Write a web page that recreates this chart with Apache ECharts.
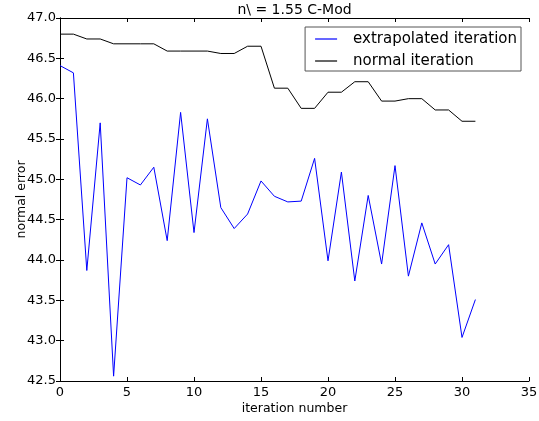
<!DOCTYPE html>
<html><head><meta charset="utf-8">
<script src="https://cdn.jsdelivr.net/npm/echarts@6/dist/echarts.min.js"></script>
<style>html,body{margin:0;padding:0;background:#fff}#c{width:539px;height:421px}</style>
</head><body><div id="c"></div>
<script>
const iterations = [0,1,2,3,4,5,6,7,8,9,10,11,12,13,14,15,16,17,18,19,20,21,22,23,24,25,26,27,28,29,30,31];
const extrapolated = [46.41,46.32,43.87,45.70,42.56,45.02,44.93,45.15,44.24,45.83,44.34,45.75,44.65,44.39,44.57,44.98,44.79,44.72,44.73,45.26,43.99,45.09,43.74,44.80,43.95,45.17,43.80,44.46,43.95,44.19,43.04,43.51];
const normal = [46.80,46.80,46.74,46.74,46.68,46.68,46.68,46.68,46.59,46.59,46.59,46.59,46.56,46.56,46.65,46.65,46.13,46.13,45.88,45.88,46.08,46.08,46.21,46.21,45.97,45.97,46.00,46.00,45.86,45.86,45.72,45.72];
const xTicks = [0,5,10,15,20,25,30,35];
const yTicks = [42.5,43.0,43.5,44.0,44.5,45.0,45.5,46.0,46.5,47.0];

const font = 'DejaVu Sans';
const chart = echarts.init(document.getElementById('c'));
const tickStyle = {show:true, inside:true, length:4, lineStyle:{color:'#000', width:1}};
const baseX = {type:'value', min:xTicks[0], max:xTicks[xTicks.length-1], interval:5,
  axisLine:{show:true, lineStyle:{color:'#000', width:1}}, splitLine:{show:false}};
const baseY = {type:'value', min:yTicks[0], max:yTicks[yTicks.length-1], interval:0.5,
  axisLine:{show:true, lineStyle:{color:'#000', width:1}}, splitLine:{show:false}};
chart.setOption({
  animation:false,
  backgroundColor:'#fff',
  title:{text:'n\\ = 1.55 C-Mod', left:294.5, textAlign:'center', top:3, padding:0,
    textStyle:{fontFamily:font, fontSize:14, fontWeight:'normal', color:'#000'}},
  grid:{left:60, right:10, top:18, bottom:40, containLabel:false, outerBoundsMode:'none'},
  legend:{orient:'vertical', right:18, top:27, padding:[3,4,1,10], itemGap:4,
    icon:'rect', itemWidth:22, itemHeight:1.2, borderColor:'#555', borderWidth:1, backgroundColor:'#fff',
    textStyle:{fontFamily:font, fontSize:15, lineHeight:18, color:'#000', padding:[0,0,0,11]},
    data:['extrapolated iteration','normal iteration']},
  xAxis:[
    Object.assign({}, baseX, {position:'bottom', name:'iteration number', nameLocation:'middle', nameGap:21,
      nameMoveOverlap:false,
      nameTextStyle:{fontFamily:font, fontSize:12.5, color:'#000'},
      axisTick:tickStyle, axisLabel:{fontFamily:font, fontSize:13, color:'#000', margin:5}}),
    Object.assign({}, baseX, {position:'top', axisTick:tickStyle, axisLabel:{show:false}})
  ],
  yAxis:[
    Object.assign({}, baseY, {position:'left', name:'normal error', nameLocation:'middle', nameGap:32,
      nameMoveOverlap:false,
      nameTextStyle:{fontFamily:font, fontSize:12.5, color:'#000'},
      axisTick:tickStyle, axisLabel:{fontFamily:font, fontSize:13, color:'#000', margin:4,
        formatter:v=>v.toFixed(1)}}),
    Object.assign({}, baseY, {position:'right', axisTick:tickStyle, axisLabel:{show:false}})
  ],
  series:[
    {name:'extrapolated iteration', type:'line', symbol:'none', color:'#0000ff',
      lineStyle:{width:1, color:'#0000ff'}, data:iterations.map((x,i)=>[x,extrapolated[i]])},
    {name:'normal iteration', type:'line', symbol:'none', color:'#000',
      lineStyle:{width:1, color:'#000'}, data:iterations.map((x,i)=>[x,normal[i]])}
  ]
});
</script></body></html>
